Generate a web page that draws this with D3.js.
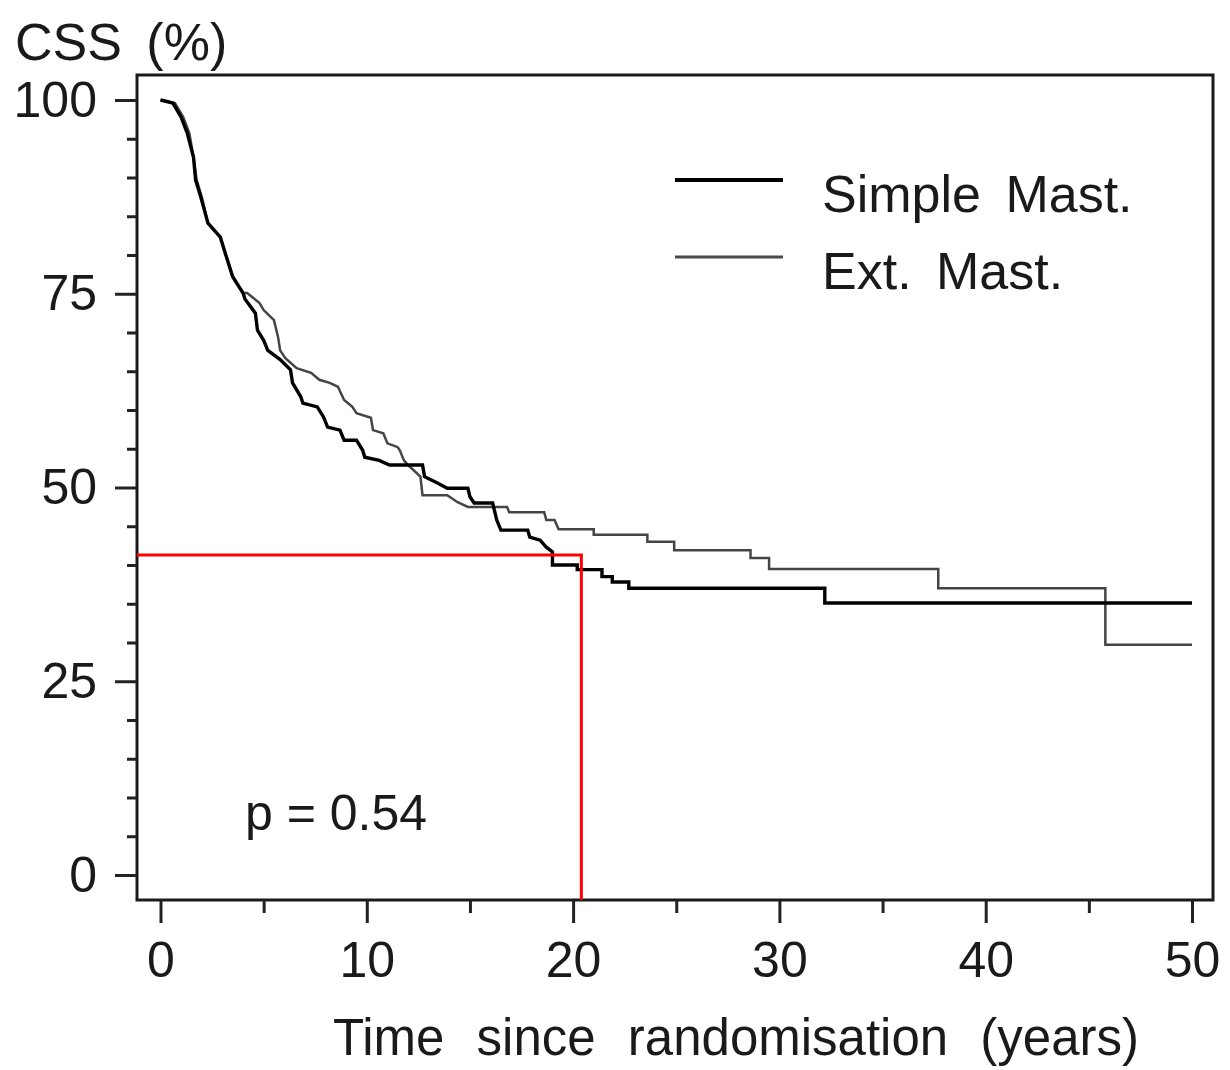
<!DOCTYPE html>
<html>
<head>
<meta charset="utf-8">
<script src="https://cdnjs.cloudflare.com/ajax/libs/d3/7.8.5/d3.min.js"></script>
<style>
    body { margin: 0; background: #fff; }
    text { font-family: "Liberation Sans", Arial, sans-serif; fill: #1a1a1a; }
</style>
</head>
<body>
<script>
// traced vertices of the two KM curves (years, CSS %)
var simpleTimes = [0, 0.6, 1.0, 1.3, 1.6, 1.7, 1.95, 2.3, 2.9, 3.2, 3.5, 4.0,
    4.1, 4.6, 4.7, 5.0, 5.2, 5.8, 6.3, 6.4, 6.8, 6.9, 7.6, 7.9, 8.1, 8.7, 8.9, 9.5, 9.8, 9.9,
    10.6, 11.1, 12.7, 12.8, 13.4, 13.9, 14.9, 15.0, 15.2, 16.1, 16.3, 16.5, 17.8, 17.9, 18.4,
    18.7, 19.0, 19.0, 20.2, 20.2, 21.4, 21.4, 21.9, 21.9, 22.7, 22.7, 32.2, 32.2, 50];
var simpleCss = [100, 99.6, 97.8, 95.7, 92.6, 89.7, 87.5, 84.1, 82.3, 79.7, 77.2, 75.1,
    74.3, 72.5, 70.3, 69.0, 67.7, 66.5, 65.2, 63.5, 61.7, 60.9, 60.4, 59.1, 57.8, 57.4, 56.1, 56.1, 54.8, 53.9,
    53.5, 52.9, 52.9, 51.4, 50.6, 49.9, 49.9, 48.8, 48.0, 48.0, 45.8, 44.5, 44.5, 43.6, 43.2,
    42.3, 41.7, 40.0, 40.0, 39.4, 39.4, 38.5, 38.5, 37.8, 37.8, 37.0, 37.0, 35.1, 35.1];

var extTimes = [0, 0.7, 1.1, 1.4, 1.6, 1.75, 2.0, 2.3, 2.9, 3.2, 3.5, 4.0,
    4.2, 4.8, 5.0, 5.5, 5.7, 5.8, 6.05, 6.6, 7.3, 7.7, 8.2, 8.6, 8.9, 9.3, 9.5, 10.2, 10.3,
    10.8, 11.0, 11.5, 11.6, 11.8, 12.0, 12.6, 12.7, 13.9, 14.4, 14.9, 16.8, 16.9, 18.6, 18.7,
    19.1, 19.3, 21.0, 21.0, 23.6, 23.6, 24.9, 24.9, 28.6, 28.6, 29.5, 29.5, 37.7, 37.7,
    45.8, 45.8, 50];
var extCss = [100, 99.6, 97.8, 95.7, 92.6, 89.7, 87.5, 84.1, 82.3, 79.7, 77.2, 75.1,
    75.1, 73.8, 72.9, 71.6, 69.4, 67.7, 66.7, 65.4, 64.8, 63.9, 63.5, 63.0, 61.3, 60.4, 59.6, 59.0, 57.4,
    57.0, 55.7, 55.2, 54.8, 53.5, 52.9, 51.4, 49.0, 49.0, 48.1, 47.5, 47.5, 46.8, 46.8, 45.8,
    45.8, 44.6, 44.6, 43.9, 43.9, 43.0, 43.0, 41.9, 41.9, 40.9, 40.9, 39.5, 39.5, 37.0,
    37.0, 29.7, 29.7];

var xMajorTicks = [0, 10, 20, 30, 40, 50];
var xMinorTicks = [5, 15, 25, 35, 45];
var yMajorTicks = [0, 25, 50, 75, 100];
var yMinorTicks = [5, 10, 15, 20, 30, 35, 40, 45, 55, 60, 65, 70, 80, 85, 90, 95];

var seriesNames = ["Simple Mast.", "Ext. Mast."];
var refTime = 20.4;
var refCss = 41.3;
var pValue = "p = 0.54";

var w = 1230;
var h = 1070;
var box = { left: 137, right: 1213, top: 75, bottom: 900 };

var x = d3.scaleLinear().domain([0, 50]).range([160.5, 1192]);
var y = d3.scaleLinear().domain([0, 100]).range([875, 100]);

var svg = d3.select("body")
    .append("svg")
    .attr("width", w)
    .attr("height", h);

var toPoints = function (times, values) {
    return times.map((t, i) => { return [t, values[i]] });
}

var line = d3.line()
    .x((d) => { return x(d[0]) })
    .y((d) => { return y(d[1]) });

var drawFrame = function () {
    svg.append("rect")
        .attr("x", box.left)
        .attr("y", box.top)
        .attr("width", box.right - box.left)
        .attr("height", box.bottom - box.top)
        .style("fill", "none")
        .style("stroke", "#1a1a1a")
        .style("stroke-width", 3);
}

var styleAxis = function (g) {
    g.select(".domain").remove();
    g.selectAll(".tick line").style("stroke", "#222").style("stroke-width", 3);
    g.selectAll(".tick text")
        .style("font-size", "50px")
        .style("font-family", "'Liberation Sans', Arial, sans-serif")
        .style("fill", "#1a1a1a");
}

var drawAxes = function () {
    svg.append("g")
        .attr("transform", "translate(" + box.left + ",0)")
        .call(d3.axisLeft(y).tickValues(yMajorTicks).tickSize(22).tickPadding(18))
        .call(styleAxis);

    svg.append("g")
        .attr("transform", "translate(" + box.left + ",0)")
        .call(d3.axisLeft(y).tickValues(yMinorTicks).tickSize(10).tickFormat(""))
        .call(styleAxis);

    svg.append("g")
        .attr("transform", "translate(0," + box.bottom + ")")
        .call(d3.axisBottom(x).tickValues(xMajorTicks).tickSize(23).tickPadding(18))
        .call(styleAxis);

    svg.append("g")
        .attr("transform", "translate(0," + box.bottom + ")")
        .call(d3.axisBottom(x).tickValues(xMinorTicks).tickSize(13).tickFormat(""))
        .call(styleAxis);

    svg.append("text")
        .attr("x", 15)
        .attr("y", 60)
        .style("font-size", "52px")
        .style("word-spacing", "10px")
        .text("CSS (%)");

    svg.append("text")
        .attr("x", 333)
        .attr("y", 1055)
        .style("font-size", "51px")
        .style("word-spacing", "18px")
        .text("Time since randomisation (years)");
}

var drawCurves = function () {
    svg.append("path")
        .datum(toPoints(extTimes, extCss))
        .attr("d", line)
        .style("fill", "none")
        .style("stroke", "#454545")
        .style("stroke-width", 2.5);

    svg.append("path")
        .datum(toPoints(simpleTimes, simpleCss))
        .attr("d", line)
        .style("fill", "none")
        .style("stroke", "#000")
        .style("stroke-width", 3.4);
}

var drawReference = function () {
    svg.append("path")
        .attr("d", "M" + box.left + "," + y(refCss) + "H" + x(refTime) + "V" + box.bottom)
        .style("fill", "none")
        .style("stroke", "#ff0000")
        .style("stroke-width", 3);

    svg.append("text")
        .attr("x", 245)
        .attr("y", 830)
        .style("font-size", "50px")
        .text(pValue);
}

var drawLegend = function () {
    var legend = svg.append("g");
    var rows = [
        { name: seriesNames[0], y: 180, color: "#000", width: 4 },
        { name: seriesNames[1], y: 257, color: "#4a4a4a", width: 3 }
    ];

    legend.selectAll("line")
        .data(rows)
        .enter()
        .append("line")
        .attr("x1", 675)
        .attr("x2", 783)
        .attr("y1", (d) => { return d.y })
        .attr("y2", (d) => { return d.y })
        .style("stroke", (d) => { return d.color })
        .style("stroke-width", (d) => { return d.width });

    legend.selectAll("text")
        .data(rows)
        .enter()
        .append("text")
        .attr("x", 822)
        .attr("y", (d) => { return d.y + 32 })
        .style("font-size", "52px")
        .style("word-spacing", "10px")
        .text((d) => { return d.name });
}

drawFrame();
drawAxes();
drawCurves();
drawReference();
drawLegend();
</script>
</body>
</html>
